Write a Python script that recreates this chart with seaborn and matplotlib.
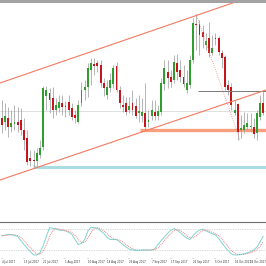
import numpy as np
import pandas as pd
import matplotlib
matplotlib.use("Agg")
import matplotlib.pyplot as plt
import seaborn as sns
from matplotlib.patches import Rectangle

# ---- daily candles (price units) ----
open_ = [112, 108, 112, 103, 106, 108, 110, 100, 92, 72, 70, 69, 75, 83, 134, 137, 132, 120, 122, 127,
         124, 128, 122, 115, 108, 127, 140, 143, 160, 166, 167, 165, 147, 135, 142, 146, 164, 140, 125, 127,
         120, 127, 124, 117, 114, 117, 108, 114, 118, 114, 118, 146, 158, 153, 150, 167, 160, 153, 140, 145,
         170, 206, 206, 198, 185, 192, 177, 192, 192, 177, 173, 145, 143, 117, 126, 100, 100, 103, 103, 103,
         97, 113, 127]
high = [130, 127, 123, 120, 125, 123, 122, 112, 100, 80, 80, 82, 90, 144, 144, 142, 143, 132, 135, 135,
        129, 135, 127, 120, 130, 148, 150, 167, 172, 172, 170, 170, 152, 150, 157, 165, 168, 144, 135, 133,
        133, 140, 132, 135, 132, 147, 120, 130, 130, 125, 152, 170, 170, 160, 175, 176, 170, 165, 160, 175,
        212, 216, 210, 205, 197, 208, 195, 197, 194, 180, 175, 150, 147, 130, 127, 115, 118, 117, 117, 112,
        120, 135, 139]
low = [97, 100, 93, 98, 100, 98, 95, 80, 65, 64, 63, 64, 72, 80, 120, 117, 112, 115, 118, 115,
       113, 115, 110, 107, 107, 124, 130, 133, 145, 155, 158, 143, 134, 131, 138, 142, 138, 122, 118, 115,
       117, 115, 112, 108, 108, 100, 103, 110, 110, 110, 115, 140, 142, 143, 147, 150, 148, 143, 137, 142,
       167, 180, 175, 182, 180, 173, 175, 185, 175, 162, 140, 135, 120, 115, 90, 92, 97, 100, 98, 92,
       90, 110, 115]
close = [105, 114, 103, 107, 108, 105, 100, 90, 68, 69, 69.5, 77, 82, 142, 140, 130, 120, 125, 128, 123,
         123.5, 120, 113, 112, 125, 140, 143, 162, 167, 164, 164, 147, 142, 143, 150, 162, 140, 127, 123, 118,
         124, 120, 114, 119, 118, 103, 110, 120, 114, 119, 147, 162, 152, 148, 168, 158, 153, 146, 147, 170,
         207, 205, 195, 193, 189, 177, 182, 191.5, 178, 172, 143, 140, 125, 120, 98, 102, 105, 107, 104, 96,
         117, 127, 117]

# ---- stochastic oscillator (%K main, %D signal) ----
stoch_k = [60, 62, 64, 64, 61, 59, 47, 36, 26, 16, 7, 7, 13, 33, 58, 83, 81, 79, 76, 75,
           74, 70, 64, 50, 36, 39, 50, 73, 84, 83, 81, 74, 67, 56, 50, 50, 50, 43, 36, 29,
           23, 21, 20, 20, 21, 21, 20, 21, 24, 36, 47, 57, 67, 76, 80, 76, 69, 61, 54, 50,
           61, 70, 76, 79, 74, 70, 66, 63, 53, 41, 29, 19, 10, 7, 7, 9, 10, 13, 16, 21,
           29, 44, 59]
stoch_d = [61, 61, 62, 63, 63, 61, 56, 48, 37, 27, 17, 10, 9, 18, 35, 58, 74, 81, 79, 77,
           75, 73, 69, 61, 50, 42, 42, 54, 69, 80, 83, 80, 74, 66, 58, 52, 50, 48, 43, 36,
           29, 24, 21, 20, 20, 21, 21, 21, 22, 27, 36, 47, 57, 67, 74, 77, 75, 69, 61, 55,
           55, 60, 69, 75, 76, 74, 70, 66, 61, 52, 41, 30, 19, 12, 8, 8, 9, 11, 13, 17,
           22, 31, 44]
stoch_levels = [20, 80]

# ---- date axis ----
tick_idx = [0, 7, 13, 20, 27, 33, 40, 47, 53, 60, 67, 73, 80]
tick_labels = ["4 Jul 2017", "13 Jul 2017", "21 Jul 2017", "1 Aug 2017", "10 Aug 2017",
               "18 Aug 2017", "29 Aug 2017", "7 Sep 2017", "17 Sep 2017", "26 Sep 2017",
               "5 Oct 2017", "16 Oct 2017", "24 Oct 2017"]

# ---- drawn objects (candle index, price) ----
upper_channel_x = [-0.53, 82.85]
upper_channel_y = [147, 238.5]
lower_channel_x = [-0.53, 82.85]
lower_channel_y = [50, 140]
dotted_trend_x = [60.9, 74.7]
dotted_trend_y = [216, 90]
resistance_start, resistance_level = 61.5, 139
bid_level = 119
orange_zone_start, orange_zone_level = 43.4, 100
cyan_zone_start, cyan_zone_level = 9.8, 63

sns.set_theme(style="white")
plt.rcParams['font.family'] = ['DejaVu Sans']

fig = plt.figure(figsize=(2.66, 2.66), dpi=100)
fig.patch.set_facecolor("white")
XL = (-0.53, 82.85)
ax = fig.add_axes([0, 1 - 221 / 266, 1, (221 - 3) / 266])
ax2 = fig.add_axes([0, 1 - 257.5 / 266, 1, (257.5 - 221.5) / 266])

idx = np.arange(len(open_))
o = np.array(open_, float)
c = np.array(close, float)
h = np.array(high, float)
l = np.array(low, float)

# candles
ax.vlines(idx, l, h, color="#a0a0a0", lw=0.55, zorder=3)
body_bottom = np.minimum(o, c)
body_h = np.maximum(np.abs(c - o), 0.9)
cols = ["#2f9e2f" if cc > oo else ("#c4161c" if cc < oo else "#888888") for oo, cc in zip(o, c)]
ax.bar(idx, body_h, bottom=body_bottom, width=0.58, color=cols, lw=0, zorder=4)

# levels / objects
ax.axhline(bid_level, color="#d9d9d9", lw=0.6, zorder=1)
ax.hlines(orange_zone_level, orange_zone_start, XL[1], color="#f7a07d", lw=2.4, zorder=2)
ax.hlines(cyan_zone_level, cyan_zone_start, XL[1], color="#a9dde3", lw=2.2, zorder=2)
ax.hlines(resistance_level, resistance_start, XL[1], color="#7a7a7a", lw=0.7, zorder=5)
ax.plot(upper_channel_x, upper_channel_y, color="#f47a60", lw=0.8, zorder=5)
ax.plot(lower_channel_x, lower_channel_y, color="#f47a60", lw=0.8, zorder=5)
ax.plot(dotted_trend_x, dotted_trend_y, color="#f28a80", lw=0.6, ls=(0, (1, 1.6)), zorder=5)

ax.set_xlim(*XL)
ax.set_ylim(9, 227)
ax.set_xticks([])
ax.set_yticks([])
for s in ax.spines.values():
    s.set_visible(False)

# stochastic panel
df = pd.DataFrame({"idx": idx, "k": stoch_k, "d": stoch_d})
for lv in stoch_levels:
    ax2.axhline(lv, color="#b5b5b5", lw=0.5, ls=(0, (1, 1.5)))
sns.lineplot(data=df, x="idx", y="k", ax=ax2, color="#7dd6d2", lw=0.7)
sns.lineplot(data=df, x="idx", y="d", ax=ax2, color="#f08080", lw=0.7, ls=(0, (1, 1)))
ax2.set_xlim(*XL)
ax2.set_ylim(0, 100)
ax2.set_xlabel("")
ax2.set_ylabel("")
ax2.set_yticks([])
ax2.set_xticks(tick_idx)
# last label is placed separately so it stays inside the figure
ax2.set_xticklabels(tick_labels[:-1] + [""], fontsize=1.9, ha="left", color="#333333")
ax2.annotate(tick_labels[-1], xy=(1, 0), xycoords="axes fraction", xytext=(-0.2, -1.6),
             textcoords="offset points", ha="right", va="top", fontsize=1.9, color="#333333")
ax2.tick_params(axis="x", length=1.0, width=0.3, pad=0.6, color="#666666", bottom=True)
for k in ["left", "right", "bottom"]:
    ax2.spines[k].set_visible(False)
ax2.spines["top"].set_color("#6e6e6e")
ax2.spines["top"].set_linewidth(0.8)

# top grey strip
fig.add_artist(Rectangle((0, 1 - 3 / 266), 1, 3 / 266, transform=fig.transFigure,
                         color="#a3a3a3", lw=0))

fig.savefig("out.png", dpi=100)
